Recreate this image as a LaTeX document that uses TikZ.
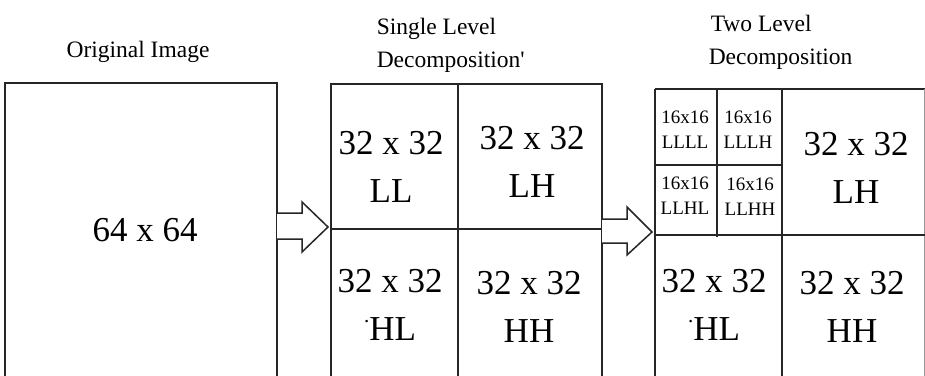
\documentclass[tikz,border=0pt]{standalone}
\usepackage{fontspec}
\setmainfont{Liberation Serif}
\usetikzlibrary{positioning}
\newcommand{\dotHL}{\raisebox{1.1ex}{\scalebox{0.6}{.}}HL}
\begin{document}
\begin{tikzpicture}[x=1pt, y=-1pt, line width=1.5pt, draw=black!85,
  big/.style={font=\fontsize{35}{48}\selectfont, align=center, inner sep=0pt},
  tiny16/.style={font=\fontsize{19}{25}\selectfont, align=center, inner sep=0pt},
  title/.style={font=\fontsize{23.5}{33}\selectfont, align=left, inner sep=0pt},
  blockarrow/.style={draw=black!85, line width=1.5pt, fill=white}]
  \useasboundingbox (0,0) rectangle (925,375);
  \clip (0,0) rectangle (925,375);
  % original
  \draw (5,83) rectangle (277,400);
  \node[title] (torig) at (138,52) {Original Image};
  \node[big] (t64) at (145,230) {64 x 64};
  % un nivel
  \draw (331,84) rectangle (602,400);
  \draw (458,84) -- (458,400);  \draw (331,229) -- (602,229);
  \node[title, anchor=west] (tsingle) at (376,45) {Single Level\\Decomposition\textquotesingle};
  \node[big] (sLL) at (391,167) {32 x 32\\LL};
  \node[big] (sLH) at (532,162) {32 x 32\\LH};
  \node[big] (sHL) at (390,305) {32 x 32\\\dotHL};
  \node[big] (sHH) at (529,307) {32 x 32\\HH};
  % dos niveles
  \draw (655,89) -- (930,89);  \draw (655,89) -- (655,400);
  \draw[black!40, line width=1pt] (924,89) -- (924,400);
  \draw (782,89) -- (782,400);  \draw (655,235) -- (930,235);
  \draw (717,89) -- (717,237);  \draw (655,165) -- (782,165);
  \node[title, anchor=west] (ttwo) at (708,42) {\hspace{2pt}Two Level\\Decomposition};
  \node[tiny16] (LLLL) at (685,130) {16x16\\LLLL};
  \node[tiny16] (LLLH) at (748,130) {16x16\\LLLH};
  \node[tiny16] (LLHL) at (685,196) {16x16\\LLHL};
  \node[tiny16] (LLHH) at (750,197) {16x16\\LLHH};
  \node[big] (dLH) at (856,168) {32 x 32\\LH};
  \node[big] (dHL) at (714,305) {32 x 32\\\dotHL};
  \node[big] (dHH) at (852,307) {32 x 32\\HH};
  % flechas
  \coordinate (a1) at (277,226);
  \coordinate (a2) at (602,231);
  \draw[blockarrow] (a1) ++(0,-13) -- ++(25,0) -- ++(0,-11) -- ++(26,25)
    -- ++(-26,25) -- ++(0,-13) -- ++(-25,0);
  \draw[blockarrow] (a2) ++(0,-12) -- ++(25,0) -- ++(0,-12) -- ++(25,25)
    -- ++(-25,23) -- ++(0,-12) -- ++(-25,0);
\end{tikzpicture}
\end{document}
